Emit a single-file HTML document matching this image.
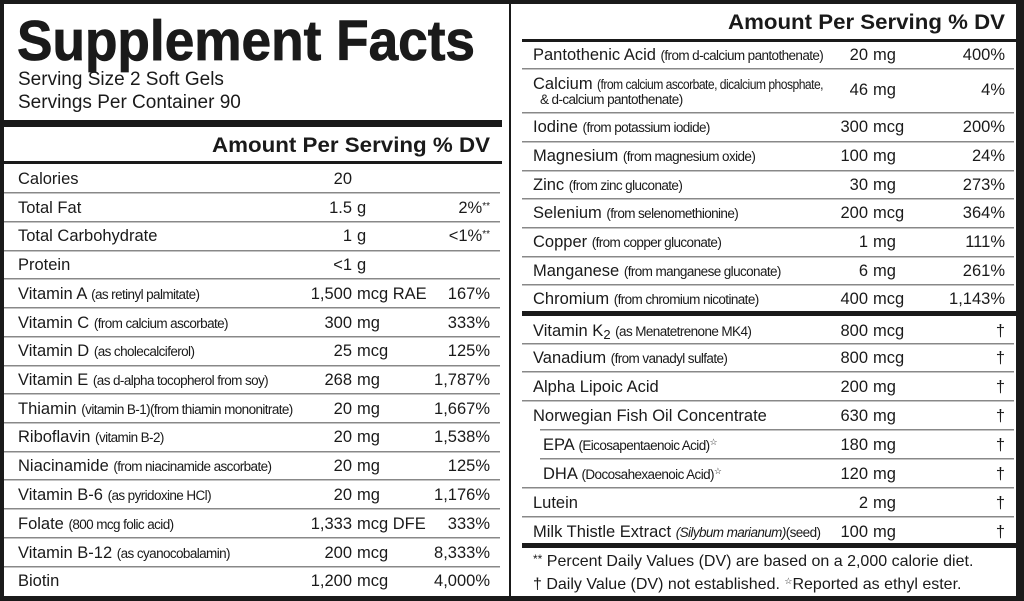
<!DOCTYPE html>
<html><head><meta charset="utf-8"><style>
html,body{margin:0;padding:0;background:#fff;}
svg{display:block;font-family:"Liberation Sans",sans-serif;fill:#1a1a1a;}
.m{font-size:16.5px;}
.s{font-size:13.5px;letter-spacing:-0.6px;}
.h{font-size:21px;font-weight:bold;}
</style></head><body>
<svg width="1024" height="601" viewBox="0 0 1024 601" xmlns="http://www.w3.org/2000/svg">
<rect x="0" y="0" width="1024" height="601" fill="#fff"/>
<rect x="0" y="0" width="1024" height="4" fill="#1a1a1a"/>
<rect x="0" y="596" width="1024" height="5" fill="#1a1a1a"/>
<rect x="0" y="0" width="4" height="601" fill="#1a1a1a"/>
<rect x="1016" y="0" width="8" height="601" fill="#1a1a1a"/>
<rect x="509" y="0" width="2" height="601" fill="#1a1a1a"/>
<text x="17" y="60" font-size="57" font-weight="bold" textLength="458" lengthAdjust="spacingAndGlyphs" stroke="#1a1a1a" stroke-width="0.8">Supplement Facts</text>
<text x="18" y="85" font-size="19">Serving Size 2 Soft Gels</text>
<text x="18" y="108" font-size="19">Servings Per Container 90</text>
<rect x="4" y="120" width="498" height="7" fill="#1a1a1a"/>
<text x="212" y="152" class="h" textLength="278" lengthAdjust="spacingAndGlyphs">Amount Per Serving  % DV</text>
<rect x="4" y="161" width="498" height="3" fill="#1a1a1a"/>
<g fill="#888">
<rect x="4" y="192" width="496" height="1.5"/><rect x="4" y="221" width="496" height="1.5"/><rect x="4" y="250" width="496" height="1.5"/><rect x="4" y="278" width="496" height="1.5"/><rect x="4" y="307" width="496" height="1.5"/><rect x="4" y="336" width="496" height="1.5"/><rect x="4" y="365" width="496" height="1.5"/><rect x="4" y="393" width="496" height="1.5"/><rect x="4" y="422" width="496" height="1.5"/><rect x="4" y="451" width="496" height="1.5"/><rect x="4" y="479" width="496" height="1.5"/><rect x="4" y="508" width="496" height="1.5"/><rect x="4" y="537" width="496" height="1.5"/><rect x="4" y="566" width="496" height="1.5"/>
</g>
<g class="m">
<text x="18" y="184">Calories</text>
<text x="18" y="213">Total Fat</text>
<text x="18" y="241">Total Carbohydrate</text>
<text x="18" y="270">Protein</text>
<text x="18" y="299">Vitamin A <tspan class="s">(as retinyl palmitate)</tspan></text>
<text x="18" y="328">Vitamin C <tspan class="s">(from calcium ascorbate)</tspan></text>
<text x="18" y="356">Vitamin D <tspan class="s">(as cholecalciferol)</tspan></text>
<text x="18" y="385">Vitamin E <tspan class="s">(as d-alpha tocopherol from soy)</tspan></text>
<text x="18" y="414">Thiamin <tspan class="s">(vitamin B-1)(from thiamin mononitrate)</tspan></text>
<text x="18" y="442">Riboflavin <tspan class="s">(vitamin B-2)</tspan></text>
<text x="18" y="471">Niacinamide <tspan class="s">(from niacinamide ascorbate)</tspan></text>
<text x="18" y="500">Vitamin B-6 <tspan class="s">(as pyridoxine HCl)</tspan></text>
<text x="18" y="529">Folate <tspan class="s">(800 mcg folic acid)</tspan></text>
<text x="18" y="558">Vitamin B-12 <tspan class="s">(as cyanocobalamin)</tspan></text>
<text x="18" y="586">Biotin</text>
</g>
<g class="m" text-anchor="end">
<text x="352" y="184">20</text>
<text x="352" y="213">1.5</text><text x="352" y="241">1</text><text x="352" y="270">&lt;1</text>
<text x="352" y="299">1,500</text><text x="352" y="328">300</text><text x="352" y="356">25</text>
<text x="352" y="385">268</text><text x="352" y="414">20</text><text x="352" y="442">20</text>
<text x="352" y="471">20</text><text x="352" y="500">20</text><text x="352" y="529">1,333</text>
<text x="352" y="558">200</text><text x="352" y="586">1,200</text>
</g>
<g class="m">
<text x="357" y="213">g</text><text x="357" y="241">g</text><text x="357" y="270">g</text>
<text x="357" y="299">mcg RAE</text><text x="357" y="328">mg</text><text x="357" y="356">mcg</text>
<text x="357" y="385">mg</text><text x="357" y="414">mg</text><text x="357" y="442">mg</text>
<text x="357" y="471">mg</text><text x="357" y="500">mg</text><text x="357" y="529">mcg DFE</text>
<text x="357" y="558">mcg</text><text x="357" y="586">mcg</text>
</g>
<g class="m" text-anchor="end">
<text x="490" y="213">2%<tspan font-size="10" dy="-4">**</tspan></text>
<text x="490" y="241">&lt;1%<tspan font-size="10" dy="-4">**</tspan></text>
<text x="490" y="299">167%</text><text x="490" y="328">333%</text><text x="490" y="356">125%</text>
<text x="490" y="385">1,787%</text><text x="490" y="414">1,667%</text><text x="490" y="442">1,538%</text>
<text x="490" y="471">125%</text><text x="490" y="500">1,176%</text><text x="490" y="529">333%</text>
<text x="490" y="558">8,333%</text><text x="490" y="586">4,000%</text>
</g>
<text x="728" y="29" class="h" textLength="277" lengthAdjust="spacingAndGlyphs">Amount Per Serving  % DV</text>
<rect x="522" y="39" width="494" height="3" fill="#1a1a1a"/>
<g fill="#888">
<rect x="522" y="68" width="492" height="1.5"/><rect x="522" y="112" width="492" height="1.5"/><rect x="522" y="141" width="492" height="1.5"/><rect x="522" y="170" width="492" height="1.5"/><rect x="522" y="198" width="492" height="1.5"/><rect x="522" y="227" width="492" height="1.5"/><rect x="522" y="256" width="492" height="1.5"/><rect x="522" y="284" width="492" height="1.5"/>
<rect x="522" y="343" width="492" height="1.5"/><rect x="522" y="371" width="492" height="1.5"/><rect x="522" y="400" width="492" height="1.5"/><rect x="540" y="429" width="474" height="1.5"/><rect x="540" y="458" width="474" height="1.5"/><rect x="522" y="487" width="492" height="1.5"/><rect x="522" y="516" width="492" height="1.5"/>
</g>
<rect x="522" y="311" width="494" height="5" fill="#1a1a1a"/>
<rect x="522" y="543" width="494" height="5" fill="#1a1a1a"/>
<g class="m">
<text x="533" y="60">Pantothenic Acid <tspan class="s">(from d-calcium pantothenate)</tspan></text>
<text x="533" y="89">Calcium</text>
<text x="597" y="89" class="s" textLength="226" lengthAdjust="spacingAndGlyphs">(from calcium ascorbate, dicalcium phosphate,</text>
<text x="540" y="104" class="s">&amp; d-calcium pantothenate)</text>
<text x="533" y="132">Iodine <tspan class="s">(from potassium iodide)</tspan></text>
<text x="533" y="161">Magnesium <tspan class="s">(from magnesium oxide)</tspan></text>
<text x="533" y="190">Zinc <tspan class="s">(from zinc gluconate)</tspan></text>
<text x="533" y="218">Selenium <tspan class="s">(from selenomethionine)</tspan></text>
<text x="533" y="247">Copper <tspan class="s">(from copper gluconate)</tspan></text>
<text x="533" y="276">Manganese <tspan class="s">(from manganese gluconate)</tspan></text>
<text x="533" y="304">Chromium <tspan class="s">(from chromium nicotinate)</tspan></text>
<text x="533" y="336">Vitamin K<tspan font-size="13" dy="3">2</tspan><tspan dy="-3"> </tspan><tspan class="s">(as Menatetrenone MK4)</tspan></text>
<text x="533" y="363">Vanadium <tspan class="s">(from vanadyl sulfate)</tspan></text>
<text x="533" y="392">Alpha Lipoic Acid</text>
<text x="533" y="421">Norwegian Fish Oil Concentrate</text>
<text x="543" y="450">EPA <tspan class="s">(Eicosapentaenoic Acid)</tspan><tspan font-size="9" dy="-5">☆</tspan></text>
<text x="543" y="479">DHA <tspan class="s">(Docosahexaenoic Acid)</tspan><tspan font-size="9" dy="-5">☆</tspan></text>
<text x="533" y="508">Lutein</text>
<text x="533" y="537">Milk Thistle Extract <tspan class="s" font-style="italic">(Silybum marianum)</tspan><tspan class="s">(seed)</tspan></text>
</g>
<g class="m" text-anchor="end">
<text x="868" y="60">20</text><text x="868" y="95">46</text><text x="868" y="132">300</text>
<text x="868" y="161">100</text><text x="868" y="190">30</text><text x="868" y="218">200</text>
<text x="868" y="247">1</text><text x="868" y="276">6</text><text x="868" y="304">400</text>
<text x="868" y="336">800</text><text x="868" y="363">800</text><text x="868" y="392">200</text>
<text x="868" y="421">630</text><text x="868" y="450">180</text><text x="868" y="479">120</text>
<text x="868" y="508">2</text><text x="868" y="537">100</text>
</g>
<g class="m">
<text x="873" y="60">mg</text><text x="873" y="95">mg</text><text x="873" y="132">mcg</text>
<text x="873" y="161">mg</text><text x="873" y="190">mg</text><text x="873" y="218">mcg</text>
<text x="873" y="247">mg</text><text x="873" y="276">mg</text><text x="873" y="304">mcg</text>
<text x="873" y="336">mcg</text><text x="873" y="363">mcg</text><text x="873" y="392">mg</text>
<text x="873" y="421">mg</text><text x="873" y="450">mg</text><text x="873" y="479">mg</text>
<text x="873" y="508">mg</text><text x="873" y="537">mg</text>
</g>
<g class="m" text-anchor="end">
<text x="1005" y="60">400%</text><text x="1005" y="95">4%</text><text x="1005" y="132">200%</text>
<text x="1005" y="161">24%</text><text x="1005" y="190">273%</text><text x="1005" y="218">364%</text>
<text x="1005" y="247">111%</text><text x="1005" y="276">261%</text><text x="1005" y="304">1,143%</text>
<text x="1005" y="336">†</text><text x="1005" y="363">†</text><text x="1005" y="392">†</text>
<text x="1005" y="421">†</text><text x="1005" y="450">†</text><text x="1005" y="479">†</text>
<text x="1005" y="508">†</text><text x="1005" y="537">†</text>
</g>
<text x="533" y="566" font-size="16"><tspan font-size="12" dy="-3">**</tspan><tspan dy="3"> Percent Daily Values (DV) are based on a 2,000 calorie diet.</tspan></text>
<text x="533" y="589" font-size="16">† Daily Value (DV) not established.    <tspan font-size="9" dy="-5">☆</tspan><tspan dy="5">Reported as ethyl ester.</tspan></text>
</svg>
</body></html>
